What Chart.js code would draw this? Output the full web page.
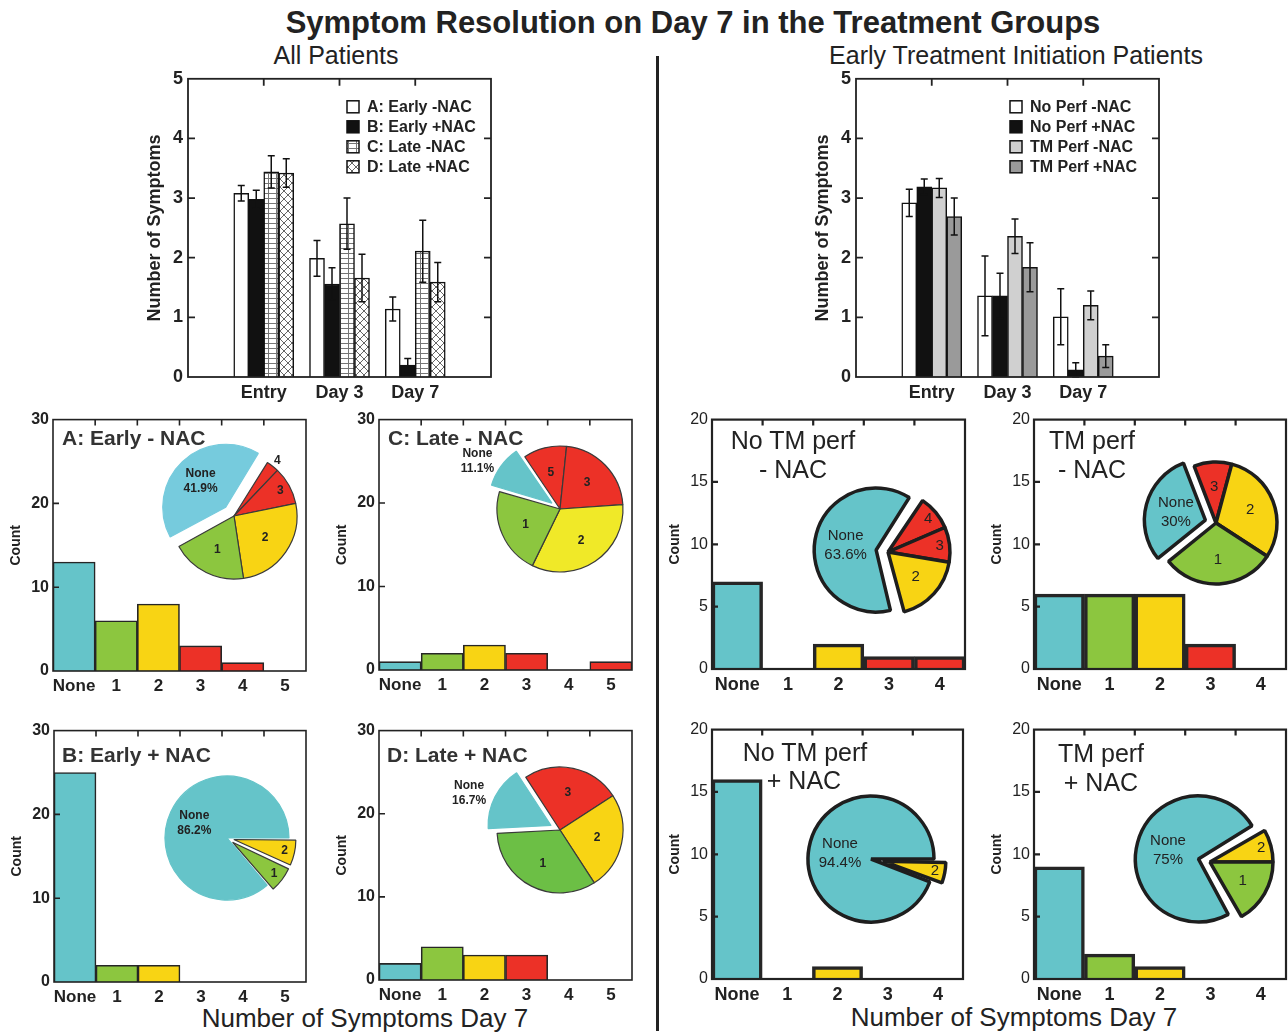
<!DOCTYPE html>
<html>
<head>
<meta charset="utf-8">
<title>Symptom Resolution on Day 7</title>
<script src="https://cdn.jsdelivr.net/npm/chart.js@4.4.1/dist/chart.umd.min.js"></script>
<style>
  html, body { margin: 0; padding: 0; background: #fff; overflow: hidden; }
  #page { position: relative; width: 1288px; height: 1033px; font-family: Arial, "Liberation Sans", Helvetica, sans-serif; color: #222; }
  #page canvas { position: absolute; }
  .txt { position: absolute; white-space: nowrap; line-height: 1; }
  #divider { position: absolute; left: 656px; top: 56px; width: 3px; height: 975px; background: #222; }
</style>
</head>
<body>
<div id="page"><div id="divider"></div></div>
<script>
// ---- mean number of symptoms (top charts) ----
const timepoints = ['Entry', 'Day 3', 'Day 7'];

const allGroups = ['A: Early -NAC', 'B: Early +NAC', 'C: Late -NAC', 'D: Late +NAC'];
const earlyNoNac = [3.08, 1.99, 1.14];
const earlyNoNacErr = [0.13, 0.30, 0.20];
const earlyNac = [2.98, 1.56, 0.20];
const earlyNacErr = [0.15, 0.27, 0.11];
const lateNoNac = [3.44, 2.57, 2.11];
const lateNoNacErr = [0.27, 0.43, 0.52];
const lateNac = [3.42, 1.66, 1.59];
const lateNacErr = [0.24, 0.40, 0.33];

const perfGroups = ['No Perf -NAC', 'No Perf +NAC', 'TM Perf -NAC', 'TM Perf +NAC'];
const noPerfNoNac = [2.92, 1.36, 1.01];
const noPerfNoNacErr = [0.23, 0.67, 0.47];
const noPerfNac = [3.19, 1.36, 0.12];
const noPerfNacErr = [0.13, 0.38, 0.12];
const tmPerfNoNac = [3.17, 2.36, 1.20];
const tmPerfNoNacErr = [0.16, 0.29, 0.24];
const tmPerfNac = [2.69, 1.84, 0.35];
const tmPerfNacErr = [0.31, 0.41, 0.19];

// ---- count of patients by number of symptoms on day 7 ----
const bins5 = ['None', '1', '2', '3', '4', '5'];
const bins4 = ['None', '1', '2', '3', '4'];
const countsEarlyNoNac = [13, 6, 8, 3, 1, 0];
const countsEarlyNac = [25, 2, 2, 0, 0, 0];
const countsLateNoNac = [1, 2, 3, 2, 0, 1];
const countsLateNac = [2, 4, 3, 3, 0, 0];
const countsNoTmNoNac = [7, 0, 2, 1, 1];
const countsTmNoNac = [6, 6, 6, 2, 0];
const countsNoTmNac = [16, 0, 1, 0, 0];
const countsTmNac = [9, 2, 1, 0, 0];
const noneShares = ['41.9%', '86.2%', '11.1%', '16.7%', '63.6%', '30%', '94.4%', '75%'];

const FONT = 'Arial, "Liberation Sans", Helvetica, sans-serif';
Chart.defaults.font.family = FONT;
Chart.defaults.color = '#222';
Chart.defaults.plugins.legend.display = false;
Chart.defaults.plugins.tooltip.enabled = false;

const CYAN = '#65c4c9', GREEN = '#8cc63f', YELLOW = '#f8d414', RED = '#ec3127';
const binColors = [CYAN, GREEN, YELLOW, RED, RED, RED];
const OFFSET_DIV = 4; // chart.js arc offset -> translation

const page = document.getElementById('page');

function addText(str, x, y, size, weight, align) {
  const d = document.createElement('div');
  d.className = 'txt';
  d.textContent = str;
  d.style.left = x + 'px';
  d.style.top = y + 'px';
  d.style.fontSize = size + 'px';
  d.style.fontWeight = weight;
  d.style.transform = align === 'left' ? 'translate(0,-50%)' : 'translate(-50%,-50%)';
  page.appendChild(d);
  return d;
}

function addCanvas(x, y, w, h) {
  const c = document.createElement('canvas');
  c.width = w; c.height = h;
  c.style.left = x + 'px'; c.style.top = y + 'px';
  c.style.width = w + 'px'; c.style.height = h + 'px';
  page.appendChild(c);
  return c;
}

function hatch(kind) {
  const c = document.createElement('canvas');
  const g = c.getContext('2d');
  if (kind === 'grid') {
    c.width = 8; c.height = 5;
    g.fillStyle = '#fff'; g.fillRect(0, 0, 8, 5);
    g.strokeStyle = '#777'; g.lineWidth = 1;
    g.beginPath();
    g.moveTo(0, 0.5); g.lineTo(8, 0.5);
    g.moveTo(0.5, 0); g.lineTo(0.5, 5);
    g.stroke();
  } else {
    c.width = 8; c.height = 8;
    g.fillStyle = '#fff'; g.fillRect(0, 0, 8, 8);
    g.strokeStyle = '#555'; g.lineWidth = 0.9;
    g.beginPath();
    g.moveTo(0, 0); g.lineTo(8, 8);
    g.moveTo(8, 0); g.lineTo(0, 8);
    g.stroke();
  }
  return g.createPattern(c, 'repeat');
}

// frame with inward ticks
const framePlugin = {
  id: 'frame',
  afterDraw(chart, args, o) {
    const { ctx, chartArea: a, scales } = chart;
    ctx.save();
    ctx.strokeStyle = '#222';
    ctx.lineWidth = o.width;
    ctx.strokeRect(a.left, a.top, a.right - a.left, a.bottom - a.top);
    ctx.beginPath();
    scales.y.ticks.forEach(t => {
      const py = scales.y.getPixelForValue(t.value);
      if (py < a.top + 2 || py > a.bottom - 2) return;
      ctx.moveTo(a.left, py); ctx.lineTo(a.left + o.len, py);
      if (o.right) { ctx.moveTo(a.right, py); ctx.lineTo(a.right - o.len, py); }
    });
    const xs = scales.x;
    const labels = chart.data.labels;
    for (let i = 0; i < labels.length; i++) {
      let px;
      if (o.between) {
        if (i === 0) continue;
        px = (xs.getPixelForValue(i - 1) + xs.getPixelForValue(i)) / 2;
      } else {
        if (!labels[i]) continue;
        px = xs.getPixelForValue(i);
      }
      ctx.moveTo(px, a.top); ctx.lineTo(px, a.top + o.len);
    }
    ctx.stroke();
    ctx.restore();
  }
};

const errorBarPlugin = {
  id: 'errorBars',
  afterDatasetsDraw(chart) {
    const { ctx } = chart;
    const ys = chart.scales.y;
    ctx.save();
    ctx.strokeStyle = '#111';
    ctx.lineWidth = 1.5;
    chart.data.datasets.forEach((ds, i) => {
      chart.getDatasetMeta(i).data.forEach((bar, j) => {
        const v = ds.data[j], e = ds.errors[j];
        if (v == null) return;
        const x = bar.x;
        const y1 = ys.getPixelForValue(v - e), y2 = ys.getPixelForValue(v + e);
        ctx.beginPath();
        ctx.moveTo(x, y1); ctx.lineTo(x, y2);
        ctx.moveTo(x - 3.5, y1); ctx.lineTo(x + 3.5, y1);
        ctx.moveTo(x - 3.5, y2); ctx.lineTo(x + 3.5, y2);
        ctx.stroke();
      });
    });
    ctx.restore();
  }
};

const boxLegendPlugin = {
  id: 'boxLegend',
  afterDraw(chart, args, o) {
    const { ctx, chartArea: a } = chart;
    ctx.save();
    ctx.font = 'bold 16px ' + FONT;
    ctx.textBaseline = 'middle';
    chart.data.datasets.forEach((ds, i) => {
      const x = a.right - o.dx, y = a.top + o.dy + i * 20;
      ctx.fillStyle = ds.backgroundColor;
      ctx.fillRect(x, y - 6, 12, 12);
      ctx.strokeStyle = '#111';
      ctx.lineWidth = 1.5;
      ctx.strokeRect(x, y - 6, 12, 12);
      ctx.fillStyle = '#222';
      ctx.fillText(ds.label, x + 20, y + 1);
    });
    ctx.restore();
  }
};

// keep exploded slices at the same radius as the others
const arcRadiusPlugin = {
  id: 'arcRadius',
  beforeDatasetsDraw(chart) {
    chart.getDatasetMeta(0).data.forEach(arc => {
      const off = (arc.options.offset || 0) / OFFSET_DIV;
      if (!off) return;
      const fix = 1 - Math.sin(Math.min(Math.PI, arc.circumference || 0));
      arc.outerRadius = chart.options.radius - off * fix;
    });
  }
};

const pieLabelPlugin = {
  id: 'pieLabels',
  afterDatasetsDraw(chart, args, o) {
    const { ctx } = chart;
    const ds = chart.data.datasets[0];
    const total = ds.data.reduce((s, v) => s + v, 0);
    const r = chart.options.radius;
    ctx.save();
    ctx.fillStyle = '#222';
    ctx.textAlign = 'center';
    ctx.textBaseline = 'middle';
    ctx.font = o.font;
    chart.getDatasetMeta(0).data.forEach((arc, i) => {
      const v = ds.data[i];
      if (!v) return;
      const mid = (arc.startAngle + arc.endAngle) / 2;
      const frac = v / total;
      const name = chart.data.labels[i];
      let x, y;
      if (name === 'None' && frac < 0.25) {
        // small "None" share: label sits outside the pie
        const d = r * 1.62;
        x = arc.x + Math.cos(mid) * d;
        y = arc.y + Math.sin(mid) * d * 0.8;
      } else {
        const k = name === 'None' ? o.noneK : frac < 0.04 ? 1.12 : frac < 0.1 ? 0.84 : 0.6;
        const d = r * k + (ds.offset[i] || 0) / OFFSET_DIV;
        x = arc.x + Math.cos(mid) * d;
        y = arc.y + Math.sin(mid) * d;
      }
      if (name === 'None') {
        ctx.fillText('None', x, y - o.lh / 2);
        ctx.fillText(o.share, x, y + o.lh / 2);
      } else {
        ctx.fillText(name, x, y);
      }
    });
    ctx.restore();
  }
};

function pad(a) { return [null, ...a, null]; }

function meanChart(box, groups, series, errs, fills) {
  const yW = 48, xH = 32, padT = 12, padR = 8;
  const c = addCanvas(box.l - yW, box.t - padT, box.r - box.l + yW + padR, box.b - box.t + padT + xH);
  return new Chart(c, {
    type: 'bar',
    data: {
      labels: pad(timepoints).map(v => v || ''),
      datasets: series.map((s, i) => ({
        label: groups[i],
        data: pad(s),
        errors: pad(errs[i]),
        backgroundColor: fills[i],
        borderColor: '#111',
        borderWidth: 1.5,
        barThickness: 15
      }))
    },
    options: {
      responsive: false,
      animation: false,
      events: [],
      devicePixelRatio: 1,
      layout: { padding: { top: padT, right: padR, left: 0, bottom: 0 } },
      scales: {
        x: {
          offset: false,
          grid: { display: false, drawTicks: false },
          border: { display: false },
          ticks: { padding: 5, autoSkip: false, maxRotation: 0, font: { size: 18, weight: 'bold' } },
          afterFit: s => { s.height = xH; }
        },
        y: {
          min: 0, max: 5,
          grid: { display: false, drawTicks: false },
          border: { display: false },
          ticks: { stepSize: 1, padding: 5, font: { size: 18, weight: 'bold' } },
          title: { display: true, text: 'Number of Symptoms', font: { size: 18, weight: 'bold' }, padding: { top: 4, bottom: 0 } },
          afterFit: s => { s.width = yW; }
        }
      },
      plugins: {
        frame: { width: 1.8, len: 7, right: true, between: false },
        boxLegend: { dx: box.legendDx, dy: 28 }
      }
    },
    plugins: [errorBarPlugin, framePlugin, boxLegendPlugin]
  });
}

function countChart(p) {
  const yW = 53, xH = 30, padT = 12, padR = 8;
  const right = p.side === 'right';
  const c = addCanvas(p.box.l - yW, p.box.t - padT, p.box.r - p.box.l + yW + padR, p.box.b - p.box.t + padT + xH);
  new Chart(c, {
    type: 'bar',
    data: {
      labels: p.bins,
      datasets: [{
        data: p.counts,
        backgroundColor: p.bins.map((b, i) => binColors[i]),
        borderColor: '#262626',
        borderWidth: right ? 3.5 : 1.6,
        barPercentage: 1,
        categoryPercentage: 1
      }]
    },
    options: {
      responsive: false,
      animation: false,
      events: [],
      devicePixelRatio: 1,
      layout: { padding: { top: padT, right: padR, left: 0, bottom: 0 } },
      scales: {
        x: {
          grid: { display: false, drawTicks: false },
          border: { display: false },
          ticks: { padding: 5, autoSkip: false, maxRotation: 0, font: { size: right ? 18 : 17, weight: 'bold' } },
          afterFit: s => { s.height = xH; }
        },
        y: {
          min: 0, max: p.yMax,
          grid: { display: false, drawTicks: false },
          border: { display: false },
          ticks: { stepSize: p.yStep, padding: 4, font: { size: 16, weight: right ? 'normal' : 'bold' } },
          title: { display: true, text: 'Count', font: { size: 14, weight: 'bold' }, padding: { top: 8, bottom: 0 } },
          afterFit: s => { s.width = yW; }
        }
      },
      plugins: { frame: { width: right ? 2.2 : 1.6, len: 6, right: false, between: true } }
    },
    plugins: [framePlugin]
  });

  // inset pie, slices clockwise from the highest count of symptoms down to "None"
  const order = p.bins.map((b, i) => i).reverse();
  const half = p.pie.r + 48;
  const pc = addCanvas(p.pie.cx - half, p.pie.cy - half, half * 2, half * 2);
  const noneFill = p.pie.noneColor || binColors[0];
  const fills = order.map(i => (i === 0 ? noneFill : (p.pie.colors && p.pie.colors[i]) || binColors[i]));
  new Chart(pc, {
    type: 'pie',
    data: {
      labels: order.map(i => p.bins[i]),
      datasets: [{
        data: order.map(i => p.counts[i]),
        backgroundColor: fills,
        borderColor: order.map((i, k) => right ? '#1e1e1e' : (i === 0 ? fills[k] : '#3a3a3a')),
        borderWidth: right ? 3.5 : 1.2,
        offset: order.map(i => (p.pie.explode[p.bins[i]] || 0) * OFFSET_DIV)
      }]
    },
    options: {
      responsive: false,
      animation: false,
      events: [],
      devicePixelRatio: 1,
      rotation: p.pie.rot,
      radius: p.pie.r,
      layout: { padding: 0 },
      plugins: {
        pieLabels: right
          ? { font: '15px ' + FONT, lh: 19, noneK: 0.5, share: p.share }
          : { font: 'bold 12px ' + FONT, lh: 15, noneK: 0.58, share: p.share }
      }
    },
    plugins: [arcRadiusPlugin, pieLabelPlugin]
  });
}

// ---- page text ----
addText('Symptom Resolution on Day 7 in the Treatment Groups', 693, 22, 31, 'bold');
addText('All Patients', 336, 55, 25, 'normal');
addText('Early Treatment Initiation Patients', 1016, 55, 25, 'normal');
addText('Number of Symptoms Day 7', 365, 1018, 26, 'normal');
addText('Number of Symptoms Day 7', 1014, 1017, 26, 'normal');

// ---- top charts ----
meanChart({ l: 188, t: 75, r: 491, b: 377, legendDx: 144 }, allGroups,
  [earlyNoNac, earlyNac, lateNoNac, lateNac],
  [earlyNoNacErr, earlyNacErr, lateNoNacErr, lateNacErr],
  ['#ffffff', '#111111', hatch('grid'), hatch('cross')]);

meanChart({ l: 856, t: 75, r: 1159, b: 377, legendDx: 149 }, perfGroups,
  [noPerfNoNac, noPerfNac, tmPerfNoNac, tmPerfNac],
  [noPerfNoNacErr, noPerfNacErr, tmPerfNoNacErr, tmPerfNacErr],
  ['#ffffff', '#111111', '#d0d0d0', '#9a9a9a']);

// ---- count panels ----
const panels = [
  { side: 'left', bins: bins5, counts: countsEarlyNoNac, share: noneShares[0], yMax: 30, yStep: 10,
    box: { l: 53, t: 418, r: 306, b: 671 },
    pie: { cx: 234, cy: 516, r: 63, rot: 32, explode: { None: 12 }, noneColor: '#76cbdd' } },
  { side: 'left', bins: bins5, counts: countsEarlyNac, share: noneShares[1], yMax: 30, yStep: 10,
    box: { l: 54, t: 729, r: 306, b: 982 }, pie: { cx: 227, cy: 838, r: 62, rot: 90, explode: { '1': 7, '2': 7 } } },
  { side: 'left', bins: bins5, counts: countsLateNoNac, share: noneShares[2], yMax: 30, yStep: 10,
    box: { l: 379, t: 418, r: 632, b: 670 },
    pie: { cx: 560, cy: 509, r: 63, rot: -34, explode: { None: 10 }, colors: { 2: '#f0e928' } } },
  { side: 'left', bins: bins5, counts: countsLateNac, share: noneShares[3], yMax: 30, yStep: 10,
    box: { l: 379, t: 729, r: 632, b: 980 },
    pie: { cx: 560, cy: 830, r: 63, rot: -33, explode: { None: 10 }, colors: { 1: '#6cbf45' } } },
  { side: 'right', bins: bins4, counts: countsNoTmNoNac, share: noneShares[4], yMax: 20, yStep: 5,
    box: { l: 712, t: 418, r: 965, b: 669 }, pie: { cx: 888, cy: 552, r: 62, rot: 34, explode: { None: 12 } } },
  { side: 'right', bins: bins4, counts: countsTmNoNac, share: noneShares[5], yMax: 20, yStep: 5,
    box: { l: 1034, t: 418, r: 1286, b: 669 }, pie: { cx: 1216, cy: 523, r: 61, rot: -21, explode: { None: 11 } } },
  { side: 'right', bins: bins4, counts: countsNoTmNac, share: noneShares[6], yMax: 20, yStep: 5,
    box: { l: 712, t: 728, r: 963, b: 979 }, pie: { cx: 871, cy: 859, r: 63, rot: 90, explode: { '2': 12 } } },
  { side: 'right', bins: bins4, counts: countsTmNac, share: noneShares[7], yMax: 20, yStep: 5,
    box: { l: 1034, t: 728, r: 1286, b: 979 }, pie: { cx: 1210, cy: 862, r: 63, rot: 60, explode: { None: 12 } } }
];
panels.forEach(countChart);

// panel titles
[['A: Early - NAC', 62, 437], ['C: Late - NAC', 388, 437], ['B: Early + NAC', 62, 754], ['D: Late + NAC', 387, 754]]
  .forEach(([t, x, y]) => { addText(t, x, y, 21, 'bold', 'left').style.color = '#333'; });
[['No TM perf', 793, 440], ['- NAC', 793, 469], ['TM perf', 1092, 440], ['- NAC', 1092, 469],
 ['No TM perf', 805, 752], ['+ NAC', 804, 780], ['TM perf', 1101, 753], ['+ NAC', 1101, 782]]
  .forEach(([t, x, y]) => { addText(t, x, y, 25, 'normal'); });
</script>
</body>
</html>
